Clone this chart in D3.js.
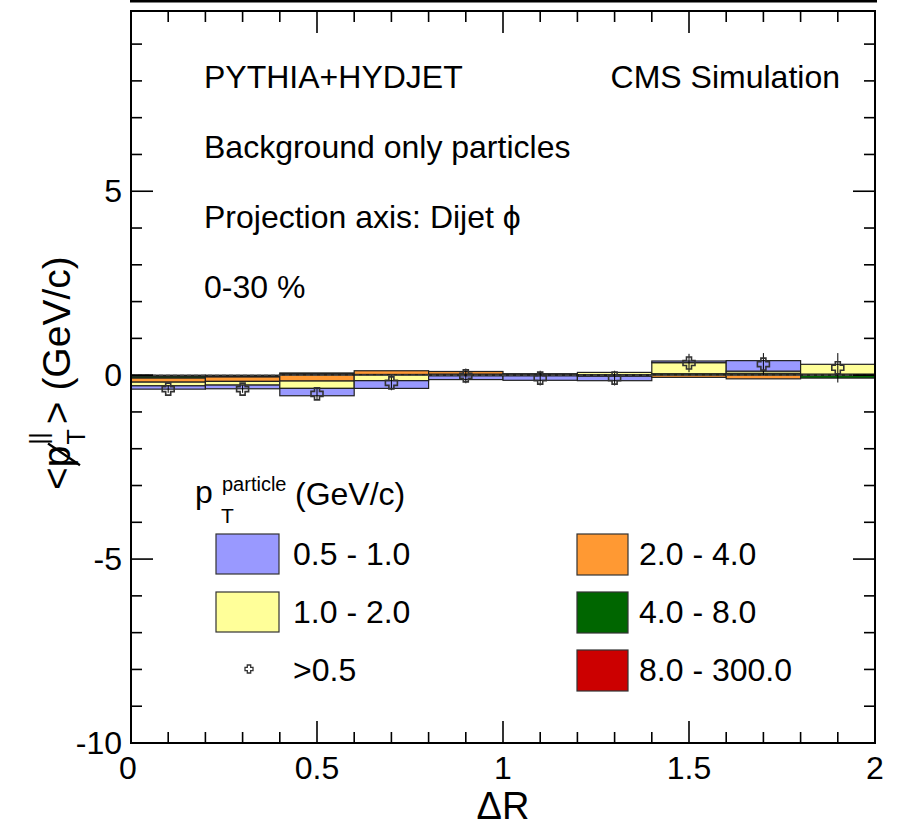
<!DOCTYPE html>
<html>
<head>
<meta charset="utf-8">
<script src="https://cdn.jsdelivr.net/npm/d3@7"></script>
<style>
  html, body { margin: 0; padding: 0; background: #fff; }
  svg text { font-family: "Liberation Sans", Arial, Helvetica, sans-serif; fill: #000; }
</style>
</head>
<body>
<svg id="chart" width="902" height="829"></svg>
<script>
// Delta R bins
const binEdges = [0.0, 0.2, 0.4, 0.6, 0.8, 1.0, 1.2, 1.4, 1.6, 1.8, 2.0];

// <pT||> contribution per pT range, one value per Delta R bin (GeV/c)
const pt05to1   = [-0.09, -0.10, -0.20, -0.21, -0.10, -0.12, -0.12, 0.045, 0.285, 0.00];
const pt1to2    = [-0.10, -0.10, -0.20, -0.15, -0.02, -0.01, 0.06, 0.30, 0.06, 0.265];
const pt2to4    = [-0.11, -0.12, -0.16, 0.10, 0.07, -0.01, -0.03, -0.06, -0.10, 0.02];
const pt4to8    = [-0.05, -0.03, 0.03, 0.01, 0.02, 0.03, 0.01, 0.04, 0.04, -0.08];
const pt8to300  = [-0.03, -0.02, 0.03, 0.01, 0.01, 0.01, 0.005, 0.00, 0.01, 0.01];

// all particles with pT > 0.5 GeV/c
const ptAll     = [-0.38, -0.38, -0.51, -0.21, -0.02, -0.08, -0.08, 0.33, 0.30, 0.20];
const ptAllErr  = [0.10, 0.10, 0.15, 0.20, 0.20, 0.20, 0.20, 0.25, 0.30, 0.40];

const xTicks = [0, 0.5, 1, 1.5, 2];
const yTicks = [-10, -5, 0, 5];

const series = [
  { name: "0.5 - 1.0",   values: pt05to1,  color: "#9999ff" },
  { name: "1.0 - 2.0",   values: pt1to2,   color: "#ffff99" },
  { name: "2.0 - 4.0",   values: pt2to4,   color: "#ff9933" },
  { name: "4.0 - 8.0",   values: pt4to8,   color: "#006600" },
  { name: "8.0 - 300.0", values: pt8to300, color: "#cc0000" }
];
// stacked outward from zero starting with the hardest range
const stackOrder = [4, 3, 2, 1, 0];

const svg = d3.select("#chart");
const plotL = 131, plotR = 875, plotT = 11, plotB = 743;
const x = d3.scaleLinear().domain([0, 2]).range([plotL, plotR]);
const y = d3.scaleLinear().domain([-10, 9.9]).range([plotB, plotT]);

// edge of the panel above
svg.append("line").attr("x1", 130).attr("x2", 877).attr("y1", 1).attr("y2", 1)
  .attr("stroke", "#000").attr("stroke-width", 3);

// stacked bands
const bands = svg.append("g");
binEdges.slice(0, -1).forEach((lo, i) => {
  const hi = binEdges[i + 1];
  let pos = 0, neg = 0;
  stackOrder.forEach(k => {
    const v = series[k].values[i];
    if (v === 0) return;
    let a, b;
    if (v > 0) { a = pos; b = pos + v; pos = b; }
    else { a = neg; b = neg + v; neg = b; }
    bands.append("rect")
      .attr("x", x(lo)).attr("width", x(hi) - x(lo))
      .attr("y", y(Math.max(a, b))).attr("height", Math.abs(y(a) - y(b)))
      .attr("fill", series[k].color)
      .attr("stroke", "#222").attr("stroke-width", 1.2);
  });
});

// zero reference
svg.append("line").attr("x1", x(0)).attr("x2", x(2)).attr("y1", y(0)).attr("y2", y(0))
  .attr("stroke", "#555").attr("stroke-width", 1).attr("stroke-dasharray", "4,3");

// open cross marker
function crossPath(s, w) {
  return `M${-w},${-s}L${w},${-s}L${w},${-w}L${s},${-w}L${s},${w}L${w},${w}L${w},${s}` +
         `L${-w},${s}L${-w},${w}L${-s},${w}L${-s},${-w}L${-w},${-w}Z`;
}
const centers = binEdges.slice(0, -1).map((lo, i) => (lo + binEdges[i + 1]) / 2);
const pts = svg.append("g");
centers.forEach((c, i) => {
  pts.append("line").attr("x1", x(c)).attr("x2", x(c))
    .attr("y1", y(ptAll[i] - ptAllErr[i])).attr("y2", y(ptAll[i] + ptAllErr[i]))
    .attr("stroke", "#000").attr("stroke-width", 1);
  pts.append("path").attr("d", crossPath(6, 2.5))
    .attr("transform", `translate(${x(c)},${y(ptAll[i])})`)
    .attr("fill", "none").attr("stroke", "#333").attr("stroke-width", 1.6);
});

// frame
svg.append("rect").attr("x", plotL).attr("y", plotT).attr("width", plotR - plotL).attr("height", plotB - plotT)
  .attr("fill", "none").attr("stroke", "#000").attr("stroke-width", 2);

// ticks on all four sides
const tk = svg.append("g").attr("stroke", "#000").attr("stroke-width", 1.6);
d3.range(0, 21).forEach(j => {
  const v = j / 10;
  const len = (j % 5 === 0) ? 22 : 11;
  if (j === 0 || j === 20) return;
  tk.append("line").attr("x1", x(v)).attr("x2", x(v)).attr("y1", plotB).attr("y2", plotB - len);
  tk.append("line").attr("x1", x(v)).attr("x2", x(v)).attr("y1", plotT).attr("y2", plotT + len);
});
d3.range(-10, 10).forEach(v => {
  const len = (v % 5 === 0) ? 22 : 11;
  if (v === -10) return;
  tk.append("line").attr("x1", plotL).attr("x2", plotL + len).attr("y1", y(v)).attr("y2", y(v));
  tk.append("line").attr("x1", plotR).attr("x2", plotR - len).attr("y1", y(v)).attr("y2", y(v));
});

// tick labels
xTicks.forEach(v => {
  svg.append("text").attr("x", x(v) - (v === 0 ? 3 : 0)).attr("y", 779)
    .attr("text-anchor", "middle").attr("font-size", 32).text(v);
});
yTicks.forEach(v => {
  svg.append("text").attr("x", 122).attr("y", y(v) + 11)
    .attr("text-anchor", "end").attr("font-size", 32).text(v);
});

// axis titles
svg.append("text").attr("x", 503).attr("y", 819).attr("text-anchor", "middle")
  .attr("font-size", 38).text("ΔR");

const yt = svg.append("g").attr("transform", "translate(70,490) rotate(-90)");
let cx = 0;
const fsT = 39;
const lt = yt.append("text").attr("x", cx).attr("y", 0).attr("font-size", fsT).text("<");
cx += lt.node().getComputedTextLength();
const pT = yt.append("text").attr("x", cx).attr("y", 0).attr("font-size", fsT).text("p");
const pw = pT.node().getComputedTextLength();
yt.append("line").attr("x1", cx + 2).attr("y1", 10).attr("x2", cx + pw + 2).attr("y2", -22)
  .attr("stroke", "#000").attr("stroke-width", 2.2);
cx += pw;
yt.append("text").attr("x", cx + 1).attr("y", -23).attr("font-size", 23).text("||");
const tsub = yt.append("text").attr("x", cx + 1).attr("y", 15).attr("font-size", 25).text("T");
cx += tsub.node().getComputedTextLength() + 6;
yt.append("text").attr("x", cx).attr("y", 0).attr("font-size", fsT).text("> (GeV/c)");

// annotations
const notes = [
  { t: "PYTHIA+HYDJET", x: 204, y: 88, a: "start" },
  { t: "CMS Simulation", x: 840, y: 88, a: "end" },
  { t: "Background only particles", x: 204, y: 158, a: "start" },
  { t: "Projection axis: Dijet ϕ", x: 204, y: 228, a: "start" },
  { t: "0-30 %", x: 204, y: 298, a: "start" }
];
notes.forEach(n => svg.append("text").attr("x", n.x).attr("y", n.y)
  .attr("text-anchor", n.a).attr("font-size", 32).text(n.t));

// legend header
const lh = svg.append("g");
lh.append("text").attr("x", 195).attr("y", 503).attr("font-size", 32).text("p");
lh.append("text").attr("x", 222).attr("y", 491).attr("font-size", 20).text("particle");
lh.append("text").attr("x", 221).attr("y", 523).attr("font-size", 21).text("T");
lh.append("text").attr("x", 295).attr("y", 505).attr("font-size", 32).text("(GeV/c)");

// legend entries
const legendRows = [554, 612, 670];
const leftCol = [series[0], series[1]];
const rightCol = [series[2], series[3], series[4]];
leftCol.forEach((s, r) => {
  svg.append("rect").attr("x", 216).attr("y", legendRows[r] - 20).attr("width", 63).attr("height", 40)
    .attr("fill", s.color).attr("stroke", "#333").attr("stroke-width", 1.2);
  svg.append("text").attr("x", 293).attr("y", legendRows[r] + 11).attr("font-size", 32).text(s.name);
});
svg.append("path").attr("d", crossPath(4, 1.7))
  .attr("transform", `translate(249,${legendRows[2] - 1})`)
  .attr("fill", "none").attr("stroke", "#333").attr("stroke-width", 1.3);
svg.append("text").attr("x", 293).attr("y", legendRows[2] + 11).attr("font-size", 32).text(">0.5");
rightCol.forEach((s, r) => {
  svg.append("rect").attr("x", 577).attr("y", legendRows[r] - 20).attr("width", 51).attr("height", 41)
    .attr("fill", s.color).attr("stroke", "#333").attr("stroke-width", 1.2);
  svg.append("text").attr("x", 639).attr("y", legendRows[r] + 11).attr("font-size", 32).text(s.name);
});
</script>
</body>
</html>
